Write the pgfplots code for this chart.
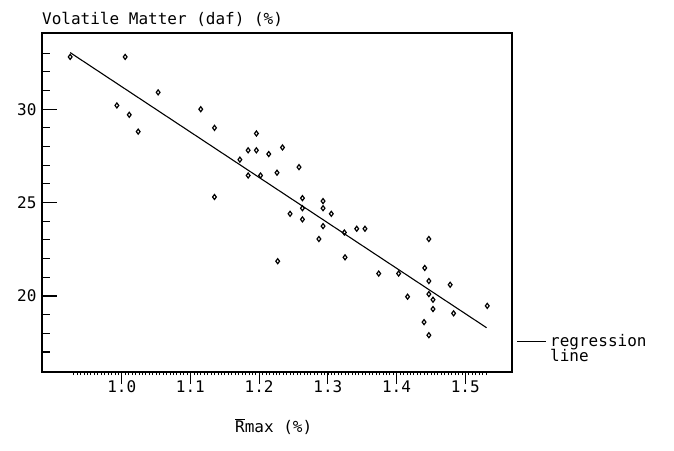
\documentclass[border=0pt]{standalone}
\usepackage{fontspec}
\setmainfont{DejaVu Sans Mono}
\usepackage{pgfplots}
\pgfplotsset{compat=1.18}
\pgfplotstableread{
x y
0.925 32.8
1.005 32.8
0.993 30.2
1.011 29.7
1.024 28.8
1.053 30.9
1.115 30.0
1.135 29.0
1.135 25.3
1.172 27.3
1.184 27.8
1.196 28.7
1.196 27.8
1.214 27.6
1.234 27.95
1.184 26.45
1.202 26.45
1.226 26.6
1.258 26.9
1.263 25.24
1.263 24.7
1.245 24.4
1.263 24.1
1.293 25.08
1.293 24.7
1.305 24.4
1.293 23.74
1.287 23.05
1.324 23.4
1.325 22.07
1.227 21.86
1.342 23.6
1.354 23.6
1.374 21.2
1.403 21.2
1.447 23.05
1.441 21.5
1.447 20.8
1.478 20.6
1.416 19.96
1.447 20.1
1.453 19.8
1.453 19.3
1.483 19.07
1.532 19.47
1.440 18.6
1.447 17.9
}\datatable
\begin{document}
\fontsize{16}{19}\selectfont
\begin{tikzpicture}
\path[use as bounding box] (0pt,0pt) rectangle (674pt,450pt);
% main axis: frame, data, x ticks
\begin{axis}[
  at={(42pt,78pt)}, anchor=south west,
  scale only axis, width=470pt, height=339pt,
  xmin=0.884, xmax=1.568, ymin=15.93, ymax=34.08,
  axis line style={line width=1.4pt},
  /pgf/number format/assume math mode=true,
  xtick={1.0,1.1,1.2,1.3,1.4,1.5},
  xticklabels={1.0,1.1,1.2,1.3,1.4,1.5},
  minor xtick={0.93,0.935,...,1.531},
  ytick=\empty,
  xtick pos=left,
  tick align=outside,
  major tick length=12pt, minor tick length=3pt,
  every tick/.style={black, line width=1pt},
  minor x tick style={line width=0.6pt},
  xticklabel style={font=\fontsize{16}{19}\selectfont, yshift=9pt},
  clip=false,
]
\addplot[black, line width=1.1pt] coordinates {(0.925,33.03) (1.531,18.3)};
\addplot[only marks, mark=diamond, mark size=2.5pt, mark options={black, line width=1.2pt, fill=white}] table[x=x,y=y] {\datatable};
\end{axis}
% overlay axis: y ticks (inward)
\begin{axis}[
  at={(42pt,78pt)}, anchor=south west,
  scale only axis, width=470pt, height=339pt,
  xmin=0.884, xmax=1.568, ymin=15.93, ymax=34.08,
  hide x axis,
  axis line style={line width=1.4pt},
  /pgf/number format/assume math mode=true,
  xtick=\empty,
  ytick={20,25,30}, yticklabels={20,25,30},
  minor ytick={17,18,19,21,22,23,24,26,27,28,29,31,32,33},
  ytick pos=left,
  tick align=inside,
  major tick length=15pt, minor tick length=8pt,
  every tick/.style={black, line width=1.1pt},
  yticklabel style={font=\fontsize{16}{19}\selectfont},
]
\end{axis}
\node[anchor=base west, inner sep=0pt] at (42pt,425pt) {Volatile Matter (daf) (\%)};
\node[anchor=base west, inner sep=0pt] at (235pt,18pt) {$\overline{\mbox{R}}$max (\%)};
\draw[line width=1pt] (517pt,109pt) -- (546pt,109pt);
\node[anchor=base west, inner sep=0pt] at (550pt,104pt) {regression};
\node[anchor=base west, inner sep=0pt] at (550pt,89pt) {line};
\end{tikzpicture}
\end{document}
